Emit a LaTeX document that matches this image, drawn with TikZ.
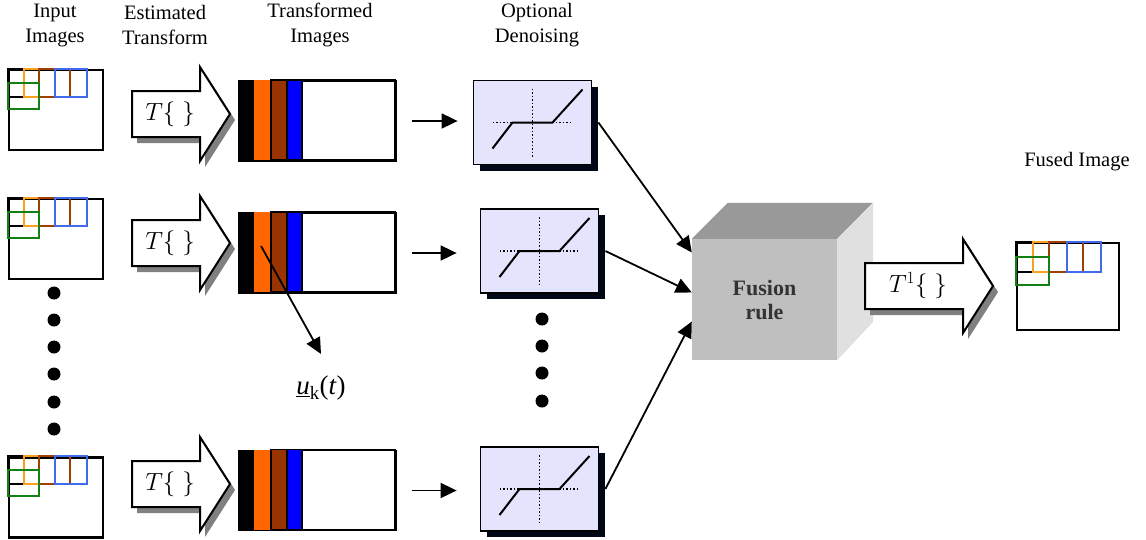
\documentclass[tikz,border=0pt]{standalone}
\usepackage{fontspec}
\setmainfont{Liberation Serif}
\usetikzlibrary{arrows.meta, positioning, shadows}

\definecolor{tileorange}{RGB}{250,160,30}
\definecolor{tilebrown}{RGB}{160,64,0}
\definecolor{tileblue}{RGB}{65,105,235}
\definecolor{tilegreen}{RGB}{20,128,20}
\definecolor{stripeorange}{RGB}{255,102,0}
\definecolor{stripebrown}{RGB}{153,51,0}
\definecolor{stripeblue}{RGB}{0,0,255}
\definecolor{lavender}{RGB}{228,228,252}
\definecolor{navyshadow}{RGB}{0,8,24}

\begin{document}
\begin{tikzpicture}[
    x=1pt, y=-1pt,
    font=\fontsize{20.5}{25}\selectfont,
    title/.style={align=center},
    frame/.style={rectangle, draw, line width=2.2pt, minimum width=94pt, minimum height=80pt, inner sep=0pt},
    timg/.style={rectangle, draw, line width=1.8pt, minimum width=157pt, minimum height=80pt, inner sep=0pt},
    denoise/.style={rectangle, draw, line width=1.8pt, fill=lavender, minimum width=118pt, minimum height=84pt, inner sep=0pt,
        general shadow={fill=navyshadow, shadow xshift=6pt, shadow yshift=-6pt}},
    cube/.style={rectangle, fill=black!25, text=black!80, minimum width=145pt, minimum height=121pt, align=center,
        font=\fontsize{22}{24}\selectfont\bfseries},
    link/.style={-{Triangle[length=16pt, width=15pt]}, line width=1.8pt},
    dot/.style={circle, fill, inner sep=0pt, minimum size=13pt},
    tile/.style={line width=2pt},
    % block arrow: #1 = body length, #2 = label
    pics/bigarrow/.style 2 args={code={
        \draw[line width=2pt, fill=white, general shadow={fill=gray, shadow xshift=5pt, shadow yshift=-6pt}]
            (0,-23) -- (#1,-23) -- (#1,-47) -- (#1+30,0) -- (#1,47) -- (#1,23) -- (0,23) -- cycle;
        \node[font=\fontsize{23}{26}\selectfont] (-txt) at (#1/2+4,0) {#2};
    }},
    % coloured sub-windows on an image frame
    pics/tiles/.style={code={
        \draw[tile] (0,0) rectangle (31,28);
        \draw[tile, tileorange] (16,0) rectangle (31,28);
        \draw[tile, tilebrown] (31,0) rectangle (62,28);
        \draw[tile, tileblue] (47,0) rectangle (79,28);
        \draw[tile, tilegreen] (0,14) rectangle (31,40);
    }},
    % coefficient bands of a transformed image
    pics/stripes/.style={code={
        \fill (0,0) rectangle (16,80);
        \fill[stripeorange] (16,0) rectangle (33,80);
        \draw[fill=stripebrown, line width=1.4pt] (33,0) rectangle (49,80);
        \draw[fill=stripeblue, line width=1.4pt] (49,0) rectangle (64,80);
        \draw[line width=1.8pt] (64,0) rectangle (157,80);
    }},
    % shrinkage curve
    pics/ramp/.style={code={
        \draw[dotted, line width=1.5pt] (-40,0) -- (40,0);
        \draw[dotted, line width=1.5pt] (0,-34) -- (0,34);
        \draw[line width=2pt] (-40,26) -- (-20,0) -- (20,0) -- (50,-33);
    }}
]
    \useasboundingbox (0,0) rectangle (1146,539);

    % column headings
    \node[title] (ttl-in) at (55,25) {Input\\Images};
    \node[title] (ttl-est) at (165,25) {Estimated\\Transform};
    \node[title] (ttl-tr) at (320,25) {Transformed\\Images};
    \node[title] (ttl-dn) at (537,25) {Optional\\Denoising};
    \node (ttl-fused) at (1077,162) {Fused Image};

    % input images
    \node[frame] (in1) at (56,110) {};
    \node[frame] (in2) at (56,239) {};
    \node[frame] (in3) at (56,497.5) {};
    \pic at (in1.north west) {tiles};
    \pic at (in2.north west) {tiles};
    \pic at (in3.north west) {tiles};
    \foreach \y in {293,320,347,374,402,429}
        \node[dot] (ldot\y) at (54,\y) {};

    % transforms
    \pic (est1) at (132,114) {bigarrow={68}{$T\{\;\}$}};
    \pic (est2) at (132,243) {bigarrow={68}{$T\{\;\}$}};
    \pic (est3) at (132,484) {bigarrow={68}{$T\{\;\}$}};

    % transformed images
    \node[timg] (t1) at (317.5,121) {};
    \node[timg] (t2) at (317.5,253) {};
    \node[timg] (t3) at (317.5,490.5) {};
    \pic at (t1.north west) {stripes};
    \pic at (t2.north west) {stripes};
    \pic at (t3.north west) {stripes};

    \coordinate (uk-src) at ([shift={(23,34)}]t2.north west);
    \coordinate (uk-tip) at (321,354);
    \node[font=\fontsize{27}{30}\selectfont] (uk) at (321,388) {\underline{\textit{u}}\textsubscript{k}(\textit{t})};
    \draw[link] (uk-src) -- (uk-tip);

    % denoising
    \node[denoise] (d1) at (532.5,122.5) {};
    \node[denoise] (d2) at (539.5,251) {};
    \node[denoise] (d3) at (539.5,489) {};
    \pic at (d1) {ramp};
    \pic at (d2) {ramp};
    \pic at (d3) {ramp};
    \foreach \y in {319,346,373,401}
        \node[dot] (mdot\y) at (542,\y) {};

    \draw[link, shorten <=15pt, shorten >=15pt] (t1.east) -- (t1.east -| d1.west);
    \draw[link, shorten <=15pt, shorten >=23pt] (t2.east) -- (t2.east -| d2.west);
    \draw[link, shorten <=15pt, shorten >=23pt] (t3.east) -- (t3.east -| d3.west);

    % fusion rule block
    \node[cube] (fusion) at (764.5,299.5) {Fusion\\rule};
    \fill[black!40] (fusion.north west) -- ++(36,-36) -- ++(145,0) -- (fusion.north east) -- cycle;
    \fill[black!12] (fusion.north east) -- ++(36,-36) -- ++(0,119) -- (fusion.south east) -- cycle;

    \draw[link] ([xshift=6pt]d1.east) -- ([yshift=47pt]fusion.west);
    \draw[link] ([xshift=6pt]d2.east) -- ([yshift=7pt]fusion.west);
    \draw[link] ([xshift=6pt]d3.east) -- ([yshift=-22pt]fusion.west);

    % inverse transform and result
    \pic (inv) at (865,286) {bigarrow={98}{$T^{1}\{\;\}$}};
    \node[frame, minimum width=102pt, minimum height=87pt] (fused) at (1068,286.5) {};
    \pic[scale=1.08] at (fused.north west) {tiles};

\end{tikzpicture}
\end{document}
